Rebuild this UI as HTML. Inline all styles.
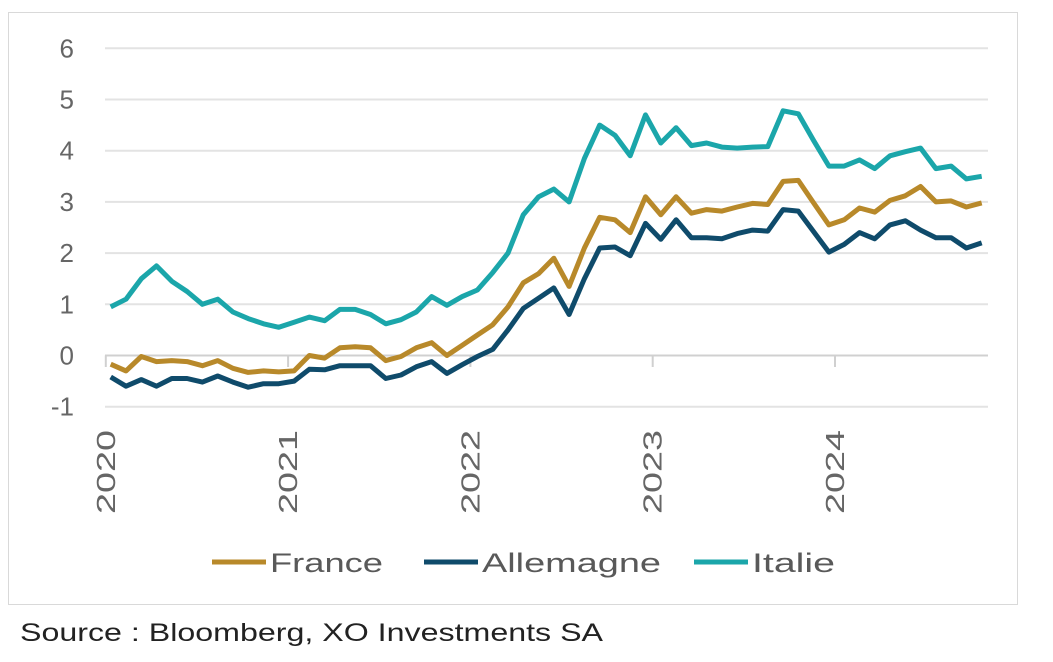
<!DOCTYPE html>
<html><head><meta charset="utf-8"><style>
body{margin:0;background:#fff;width:1053px;height:657px;overflow:hidden;font-family:"Liberation Sans",sans-serif}
</style></head><body>
<svg width="1053" height="657" xmlns="http://www.w3.org/2000/svg">
<rect x="8.5" y="12.5" width="1009" height="592" fill="#fff" stroke="#d9d9d9"/>
<g id="grid"></g><g id="lines"></g><g id="labels"></g>
<g font-size="27" fill="#595959">
<line x1="212" y1="562" x2="266" y2="562" stroke="#b8892a" stroke-width="5"/>
<text x="270" y="572" textLength="113" lengthAdjust="spacingAndGlyphs">France</text>
<line x1="424" y1="562" x2="478" y2="562" stroke="#0f4b6b" stroke-width="5"/>
<text x="482" y="572" textLength="179" lengthAdjust="spacingAndGlyphs">Allemagne</text>
<line x1="694" y1="562" x2="748" y2="562" stroke="#1ba6aa" stroke-width="5"/>
<text x="752" y="572" textLength="83" lengthAdjust="spacingAndGlyphs">Italie</text>
</g>
<text x="20" y="641" font-size="25" fill="#222" textLength="583" lengthAdjust="spacingAndGlyphs">Source : Bloomberg, XO Investments SA</text>
</svg>
<script>
const yTicks=[-1,0,1,2,3,4,5,6];
const years=["2020","2021","2022","2023","2024"];
const france=[-0.17,-0.3,-0.02,-0.12,-0.1,-0.12,-0.2,-0.1,-0.25,-0.33,-0.3,-0.32,-0.3,0.0,-0.05,0.15,0.17,0.15,-0.1,-0.02,0.15,0.25,0.0,0.2,0.4,0.6,0.95,1.42,1.6,1.9,1.35,2.1,2.7,2.65,2.4,3.1,2.75,3.1,2.78,2.85,2.82,2.9,2.97,2.95,3.4,3.42,2.98,2.55,2.65,2.88,2.8,3.03,3.12,3.3,3.0,3.02,2.9,2.98];
const allemagne=[-0.42,-0.6,-0.47,-0.6,-0.45,-0.45,-0.52,-0.4,-0.52,-0.62,-0.55,-0.55,-0.5,-0.27,-0.28,-0.2,-0.2,-0.2,-0.45,-0.38,-0.22,-0.12,-0.35,-0.18,-0.02,0.12,0.5,0.92,1.12,1.32,0.8,1.5,2.1,2.12,1.95,2.58,2.27,2.65,2.3,2.3,2.28,2.38,2.45,2.43,2.85,2.82,2.42,2.02,2.17,2.4,2.28,2.55,2.63,2.45,2.3,2.3,2.1,2.2];
const italie=[0.95,1.1,1.5,1.75,1.45,1.25,1.0,1.1,0.85,0.72,0.62,0.55,0.65,0.75,0.68,0.9,0.9,0.8,0.62,0.7,0.85,1.15,0.98,1.15,1.28,1.62,2.0,2.75,3.1,3.25,3.0,3.85,4.5,4.3,3.9,4.7,4.15,4.45,4.1,4.15,4.07,4.05,4.07,4.08,4.78,4.72,4.2,3.7,3.7,3.82,3.65,3.9,3.98,4.05,3.65,3.7,3.45,3.5];
const NS="http://www.w3.org/2000/svg";
const y=v=>355.5-v*51.2;
const x0=110.7,x1=981.7;
const x=i=>x0+i*(x1-x0)/(france.length-1);
const yearX=k=>105.8+k*182.3;
function mk(t,a,p){const e=document.createElementNS(NS,t);for(const k in a)e.setAttribute(k,a[k]);p.appendChild(e);return e;}
const grid=document.getElementById('grid'),lines=document.getElementById('lines'),labels=document.getElementById('labels');
yTicks.forEach(v=>{
 const l=mk('line',{x1:105,x2:988,y1:y(v),y2:y(v),stroke:v===0?'#d0d0d0':'#e3e3e3','stroke-width':2},grid);
 
 
 const t=mk('text',{x:74,y:y(v)+9,'text-anchor':'end','font-size':26,fill:'#666'},labels);
 t.textContent=v;
 
 
});
years.forEach((yr,k)=>{
 const tk=mk('line',{x1:yearX(k),x2:yearX(k),y1:355.5,y2:367,stroke:'#d0d0d0','stroke-width':2},grid);
 
 
 const t=mk('text',{x:0,y:0,'text-anchor':'end','font-size':26,fill:'#666',textLength:84,lengthAdjust:'spacingAndGlyphs',transform:`translate(${yearX(k)+9},430) rotate(-90)`},labels);
 t.textContent=yr;
 
 
});
[[italie,'#1ba6aa','line-italie'],[france,'#b8892a','line-france'],[allemagne,'#0f4b6b','line-allemagne']].forEach(([d,c,n])=>{
 const p=mk('polyline',{points:d.map((v,i)=>x(i).toFixed(1)+','+y(v).toFixed(1)).join(' '),fill:'none',stroke:c,'stroke-width':5,'stroke-linejoin':'round'},lines);
 
 
});
</script>
</body></html>
